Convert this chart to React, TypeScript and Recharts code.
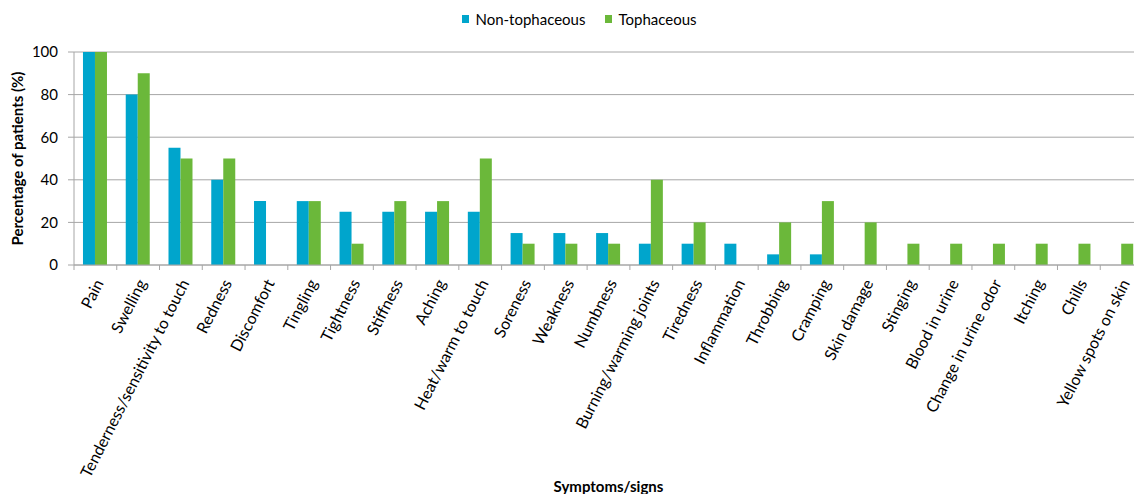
import { BarChart, Bar, XAxis, YAxis, CartesianGrid, Legend } from 'recharts';

const categories = [
  'Pain', 'Swelling', 'Tenderness/sensitivity to touch', 'Redness', 'Discomfort',
  'Tingling', 'Tightness', 'Stiffness', 'Aching', 'Heat/warm to touch',
  'Soreness', 'Weakness', 'Numbness', 'Burning/warming joints', 'Tiredness',
  'Inflammation', 'Throbbing', 'Cramping', 'Skin damage', 'Stinging',
  'Blood in urine', 'Change in urine odor', 'Itching', 'Chills', 'Yellow spots on skin',
];
const nonTophaceous = [100, 80, 55, 40, 30, 30, 25, 25, 25, 25, 15, 15, 15, 10, 10, 10, 5, 5, 0, 0, 0, 0, 0, 0, 0];
const tophaceous = [100, 90, 50, 50, 0, 30, 10, 30, 30, 50, 10, 10, 10, 40, 20, 0, 20, 30, 20, 10, 10, 10, 10, 10, 10];
const yTicks = [0, 20, 40, 60, 80, 100];

const data = categories.map((name, i) => ({
  name,
  non: nonTophaceous[i],
  toph: tophaceous[i],
}));

const BLUE = '#00a5cc';
const GREEN = '#6bb83a';
const GRID = '#a6a6a6';
const FONT = 'Lato, sans-serif';

const W = 1143;
const H = 494;
const Y_W = 74;
const BAND = (W - Y_W) / categories.length;

const CategoryTick = (props: any) => {
  const { x, y, payload } = props;
  return (
    <g>
      <line x1={x - BAND / 2} x2={x - BAND / 2} y1={y - 5} y2={y} stroke={GRID} />
      <text
        transform={`translate(${x + 3},${y + 10}) rotate(-63)`}
        textAnchor="end"
        dominantBaseline="central"
        fontSize={16}
        fontFamily={FONT}
        fill="#000"
      >
        {payload.value}
      </text>
    </g>
  );
};

const LegendContent = () => (
  <div style={{ height: 52, display: 'flex', justifyContent: 'center', paddingTop: 8, paddingLeft: 36, boxSizing: 'border-box', fontFamily: FONT, fontSize: 15, color: '#000' }}>
    {[{ c: BLUE, t: 'Non-tophaceous' }, { c: GREEN, t: 'Tophaceous' }].map((it) => (
      <div key={it.t} style={{ display: 'flex', alignItems: 'center', height: 22, marginRight: 20 }}>
        <span style={{ width: 7, height: 8, background: it.c, display: 'inline-block', marginRight: 6 }} />
        <span>{it.t}</span>
      </div>
    ))}
  </div>
);

export default function App() {
  return (
    <div style={{ position: 'absolute', left: 0, top: 0, width: 1134, height: H, overflow: 'hidden', background: '#fff' }}>
      <BarChart width={W} height={H} data={data} margin={{ top: 0, right: 0, bottom: 0, left: 0 }} barCategoryGap="21%" barGap={0}>
        <Legend verticalAlign="top" align="center" content={<LegendContent />} />
        <CartesianGrid vertical={false} stroke={GRID} />
        <XAxis
          dataKey="name"
          interval={0}
          height={H - 265}
          stroke={GRID}
          tickLine={false}
          tickSize={5}
          tickMargin={0}
          tick={<CategoryTick />}
          label={{ value: 'Symptoms/signs', position: 'insideBottom', offset: 2, fontFamily: FONT, fontSize: 15, fontWeight: 700, fill: '#000' }}
        />
        <YAxis
          width={Y_W}
          domain={[0, 100]}
          ticks={yTicks}
          stroke={GRID}
          tickSize={6}
          tickMargin={10}
          tick={{ fontFamily: FONT, fontSize: 15, fill: '#000' }}
          label={{ value: 'Percentage of patients (%)', angle: -90, position: 'insideLeft', offset: 18, fontFamily: FONT, fontSize: 15, fontWeight: 700, fill: '#000', style: { textAnchor: 'middle' } }}
        />
        <Bar dataKey="non" name="Non-tophaceous" fill={BLUE} isAnimationActive={false} />
        <Bar dataKey="toph" name="Tophaceous" fill={GREEN} isAnimationActive={false} />
      </BarChart>
    </div>
  );
}
